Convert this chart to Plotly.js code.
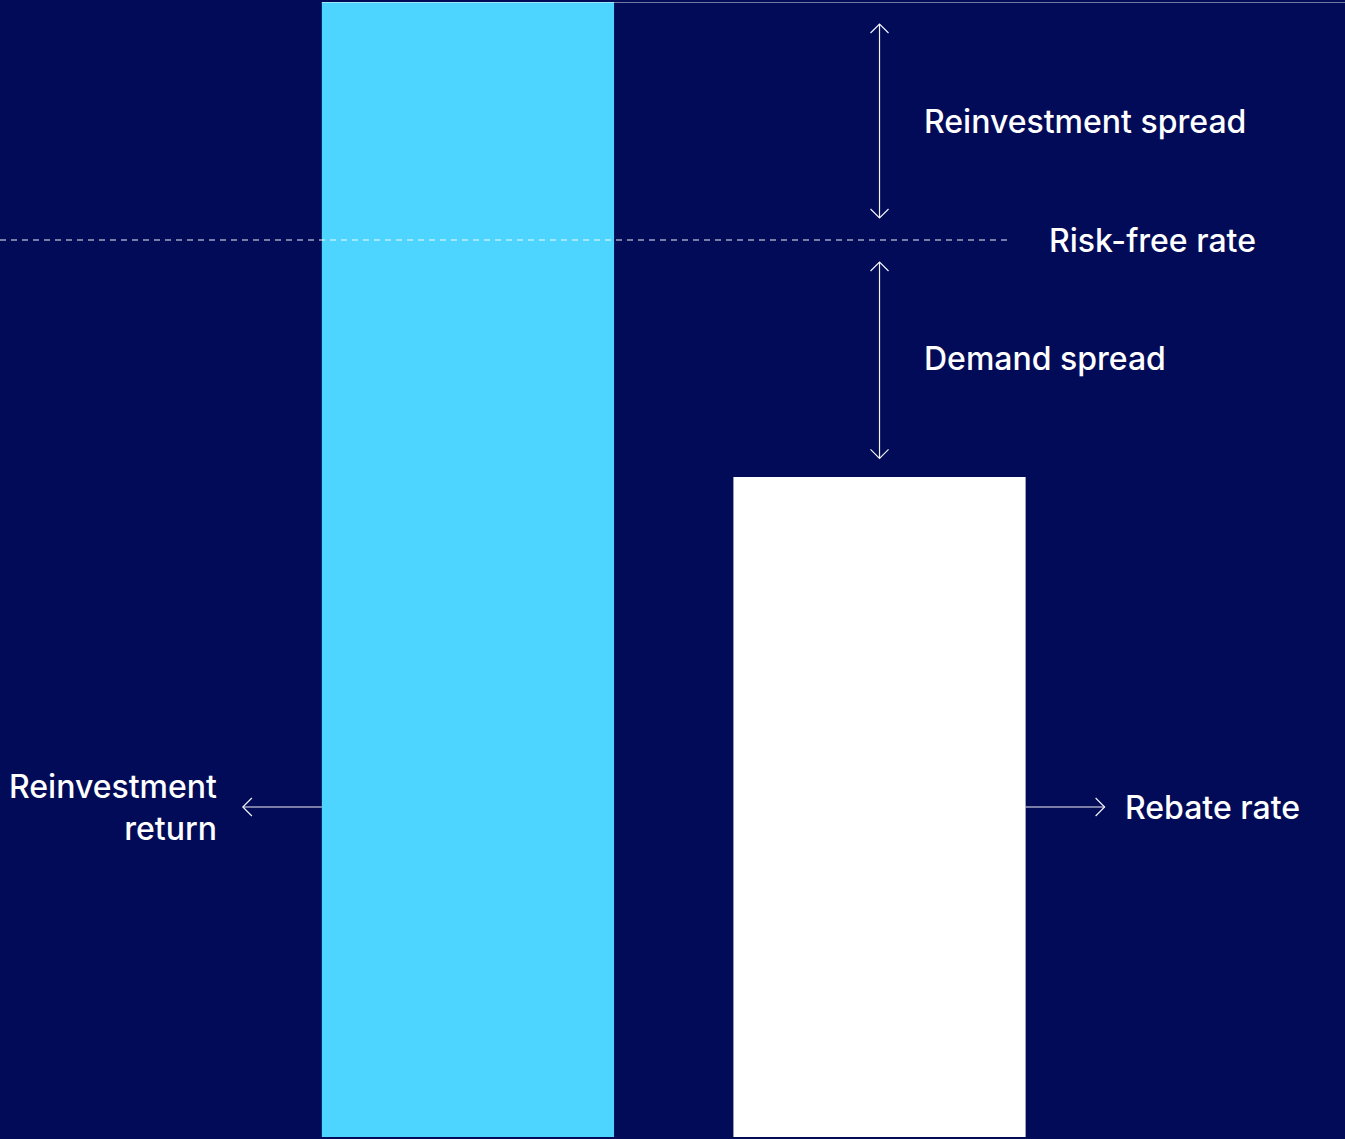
<!DOCTYPE html>
<html>
<head>
<meta charset="utf-8">
<script src="https://cdn.plot.ly/plotly-3.0.1.min.js"></script>
<style>
  html, body { margin: 0; padding: 0; background: #020B58; }
  #chart { width: 1345px; height: 1139px; }
</style>
</head>
<body>
<div id="chart"></div>
<script>
// ---- Data ----
const categories = ["Reinvestment return", "Rebate rate"];
const barValues = [100, 58.15];          // reinvestment return, rebate rate
const riskFreeRate = 79.03;
const barColors = ["#4DD4FF", "#FFFFFF"];
const labelTexts = {
  reinvestSpread: "Reinvestment spread",
  riskFree: "Risk-free rate",
  demandSpread: "Demand spread",
  reinvestReturn: "Reinvestment<br>return",
  rebate: "Rebate rate"
};

// ---- Layout constants ----
const W = 1345, H = 1139, MT = 2, MB = 2;
const xRange = [-1.137, 2.131];
const yRange = [0, 100];
const pxX = W / (xRange[1] - xRange[0]);            // pixels per x unit
const pxY = (H - MT - MB) / (yRange[1] - yRange[0]); // pixels per y unit
const barWidth = 0.71;
const navy = "#020B58";

const dx = 9 / pxX, dy = 9 / pxY;   // chevron arm size
const gap = 22 / pxY;               // vertical arrow gap

// positions derived from data
const xReinv = 0, xRebate = 1;
const topVal = barValues[0];
const rebateVal = barValues[1];
const midRebate = rebateVal / 2;

function vArrow(cx, yTop, yBot) {
  return {
    x: [cx, cx, null, cx - dx, cx, cx + dx, null, cx - dx, cx, cx + dx],
    y: [yTop, yBot, null, yTop - dy, yTop, yTop - dy, null, yBot + dy, yBot, yBot + dy]
  };
}
function hArrow(xFrom, xTip, cy) {
  const s = Math.sign(xTip - xFrom);
  return {
    x: [xFrom, xTip, null, xTip - s * dx, xTip, xTip - s * dx],
    y: [cy, cy, null, cy + dy, cy, cy - dy]
  };
}

const a1 = vArrow(xRebate, topVal - gap, riskFreeRate + gap);
const a2 = vArrow(xRebate, riskFreeRate - gap, rebateVal + gap * 0.85);
const hLen = 79 / pxX;
const a3 = hArrow(xReinv - barWidth / 2, xReinv - barWidth / 2 - hLen, midRebate);
const a4 = hArrow(xRebate + barWidth / 2, xRebate + barWidth / 2 + hLen, midRebate);

function join(...arrs) {
  const x = [], y = [];
  arrs.forEach((a, i) => {
    if (i > 0) { x.push(null); y.push(null); }
    x.push(...a.x); y.push(...a.y);
  });
  return { x, y };
}
const arrows = join(a1, a2, a3, a4);

const dashEnd = xRebate + 132 / pxX;

const traces = [
  {
    type: "bar",
    x: [xReinv, xRebate],
    y: barValues,
    width: barWidth,
    marker: { color: barColors, line: { width: 0 } },
    hoverinfo: "skip",
    text: categories,
    textposition: "none"
  },
  {
    type: "scatter",
    mode: "lines",
    x: [xRange[0], dashEnd],
    y: [riskFreeRate, riskFreeRate],
    line: { color: "rgba(255,255,255,0.95)", width: 1.1, dash: "6px,5px" },
    hoverinfo: "skip"
  },
  {
    type: "scatter",
    mode: "lines",
    x: arrows.x,
    y: arrows.y,
    line: { color: "rgba(255,255,255,0.95)", width: 1.2 },
    hoverinfo: "skip",
    connectgaps: false
  }
];

const font = { family: "Inter, 'Noto Sans', sans-serif", size: 32, color: "#FFFFFF", weight: 500 };

const annotations = [
  { x: xRebate + 42 / pxX, y: (topVal + riskFreeRate) / 2, text: labelTexts.reinvestSpread,
    xanchor: "left", yanchor: "middle" },
  { x: dashEnd + 35 / pxX, y: riskFreeRate, text: labelTexts.riskFree,
    xanchor: "left", yanchor: "middle" },
  { x: xRebate + 42 / pxX, y: (riskFreeRate + rebateVal) / 2, text: labelTexts.demandSpread,
    xanchor: "left", yanchor: "middle" },
  { x: xReinv - barWidth / 2 - hLen - 24 / pxX, y: midRebate, text: labelTexts.reinvestReturn,
    xanchor: "right", yanchor: "middle", align: "right" },
  { x: xRebate + barWidth / 2 + hLen + 18 / pxX, y: midRebate, text: labelTexts.rebate,
    xanchor: "left", yanchor: "middle" }
].map(a => Object.assign({ xref: "x", yref: "y", showarrow: false, font: font }, a));

const layout = {
  width: W, height: H,
  margin: { l: 0, r: 0, t: MT, b: MB, pad: 0 },
  paper_bgcolor: navy,
  plot_bgcolor: navy,
  showlegend: false,
  hovermode: false,
  xaxis: { range: xRange, visible: false, fixedrange: true },
  yaxis: { range: yRange, visible: false, fixedrange: true },
  shapes: [
    { type: "line", xref: "x", yref: "y", layer: "above",
      x0: xReinv - barWidth / 2, x1: xRange[1], y0: topVal, y1: topVal,
      line: { color: "rgba(255,255,255,0.9)", width: 1.2 } }
  ],
  annotations: annotations
};

Plotly.newPlot("chart", traces, layout, { displayModeBar: false, staticPlot: true });
</script>
</body>
</html>
